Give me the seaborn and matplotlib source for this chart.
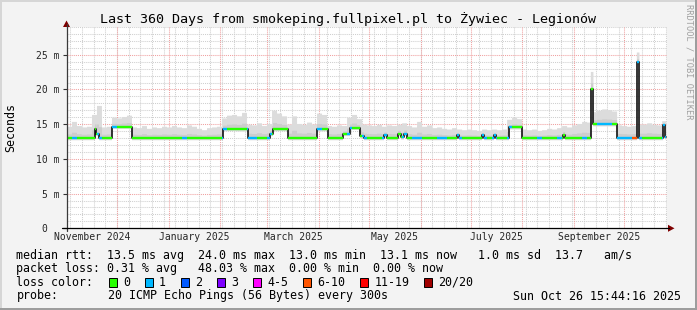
import numpy as np
import pandas as pd
import matplotlib
matplotlib.use("Agg")
import matplotlib.pyplot as plt
from matplotlib.patches import Rectangle, Polygon
from matplotlib.lines import Line2D
import seaborn as sns

# ---------------- data ----------------
TITLE = "Last 360 Days from smokeping.fullpixel.pl to Żywiec - Legionów"
START = "2024-10-31 15:44:16"
SPAN_DAYS = 360
DATA_END_DAY = 359.5
BIN_DAYS = 3

# median RTT (ms) as a step series: value holds from change day until next change
median_change_day = [0, 16.8, 17.8, 19.2, 27, 39, 93.6, 108.6, 121.8, 123.6, 132.6,
                     150, 156.6, 165.6, 169.8, 175.8, 178.2, 190.2, 192, 198.6, 200.4,
                     202.2, 204, 234, 235.2, 249, 250.2, 256.2, 257.4, 265.2, 273,
                     297.6, 298.8, 314.4, 315.6, 330, 342, 343.2, 357.6, 358.8]
median_ms = [13.0, 14.3, 13.6, 13.0, 14.65, 13.0, 14.3, 13.0, 13.6, 14.3, 13.0,
             14.3, 13.0, 13.6, 14.5, 13.3, 13.0, 13.4, 13.0, 13.6, 13.1,
             13.6, 13.0, 13.4, 13.0, 13.5, 13.0, 13.4, 13.0, 14.55, 13.0,
             13.5, 13.0, 20.1, 15.0, 13.0, 23.9, 13.0, 14.9, 13.1]

# upper edge of the smoke (ms), one value per 3-day bin
smoke_max_ms = [
    14.7, 15.4, 14.8, 14.6, 14.7, 16.4, 17.7, 14.6, 14.7, 16.0,
    15.9, 16.1, 16.3, 14.6, 14.5, 14.8, 14.4, 14.6, 14.5, 14.7,
    14.6, 14.8, 14.6, 14.5, 14.9, 14.7, 14.4, 14.2, 14.5, 14.6,
    14.7, 15.9, 16.3, 16.4, 16.2, 16.7, 15.0, 14.9, 15.2, 14.8,
    15.1, 17.0, 16.6, 16.2, 15.0, 16.2, 15.1, 15.0, 15.3, 15.0,
    16.6, 16.4, 14.8, 14.7, 14.9, 14.8, 16.0, 16.4, 15.8, 15.0,
    14.9, 14.8, 15.0, 14.7, 14.9, 14.8, 15.0, 15.2, 14.8, 14.6,
    15.4, 14.7, 14.9, 14.5, 14.6, 14.4, 14.3, 14.5, 14.3, 14.2,
    14.3, 14.2, 14.1, 14.3, 14.2, 14.3, 14.2, 14.3, 15.7, 16.0,
    15.8, 14.3, 14.2, 14.3, 14.1, 14.2, 14.4, 14.3, 14.5, 14.8,
    14.6, 14.9, 15.1, 15.4, 15.3, 16.8, 17.0, 17.2, 17.1, 16.9,
    14.9, 14.8, 14.7, 14.8, 15.0, 15.0, 15.2, 15.0, 14.9, 15.5]
smoke_peak_start_day = [314.2, 341.8]
smoke_peak_end_day = [315.8, 343.4]
smoke_peak_ms = [22.6, 25.4]

# lost pings (of 20), one value per 3-day bin
loss_count = [
    0, 1, 0, 0, 0, 0, 1, 0, 0, 1,
    0, 0, 0, 0, 0, 0, 0, 0, 0, 0,
    0, 0, 0, 1, 0, 0, 0, 0, 0, 0,
    0, 1, 0, 0, 0, 0, 1, 1, 0, 0,
    1, 0, 0, 0, 0, 0, 0, 0, 0, 0,
    1, 0, 0, 0, 0, 0, 1, 0, 0, 1,
    0, 0, 0, 1, 0, 0, 0, 1, 0, 1,
    1, 0, 0, 0, 1, 1, 0, 0, 1, 0,
    0, 0, 0, 1, 0, 1, 0, 0, 1, 0,
    0, 0, 0, 0, 1, 0, 0, 0, 1, 0,
    0, 0, 0, 1, 0, 0, 1, 1, 1, 0,
    1, 1, 1, 7, 1, 0, 0, 0, 0, 1]

y_ticks = [0, 5, 10, 15, 20, 25]
y_tick_labels = ["0  ", "5 m", "10 m", "15 m", "20 m", "25 m"]
Y_MAX = 29
x_label_months = ["2024-11-01", "2025-01-01", "2025-03-01", "2025-05-01", "2025-07-01", "2025-09-01"]

loss_labels = ["0", "1", "2", "3", "4-5", "6-10", "11-19", "20/20"]
loss_colors = ["#26ff00", "#00b8ff", "#0059ff", "#7e00ff", "#ff00ff", "#ff5500", "#ff0000", "#a00000"]
loss_upper = [0, 1, 2, 3, 5, 10, 19, 20]

legend_rtt = "median rtt:  13.5 ms avg  24.0 ms max  13.0 ms min  13.1 ms now   1.0 ms sd  13.7   am/s"
legend_loss = "packet loss: 0.31 % avg   48.03 % max  0.00 % min  0.00 % now"
probe_text = "20 ICMP Echo Pings (56 Bytes) every 300s"
stamp_text = "Sun Oct 26 15:44:16 2025"

# ---------------- figure ----------------
W, H, DPI = 697, 310, 100
sns.set_theme(style="white")
plt.rcParams["font.family"] = ["DejaVu Sans Mono"]
plt.rcParams["text.color"] = "black"

fig = plt.figure(figsize=(W / DPI, H / DPI), dpi=DPI, facecolor="#f3f3f3")
L, R, T, B = 66.5, 666.7, 27.0, 228.3


def fx(x):
    return x / W


def fy(y):
    return 1 - y / H


ax = fig.add_axes([fx(L), fy(B), (R - L) / W, (B - T) / H])
ax.set_facecolor("white")
for s in ax.spines.values():
    s.set_visible(False)
ax.set_xlim(0, SPAN_DAYS)
ax.set_ylim(0, Y_MAX)

start = pd.Timestamp(START)
end = start + pd.Timedelta(days=SPAN_DAYS)


def day_of(ts):
    return (pd.Timestamp(ts) - start) / pd.Timedelta(days=1)


dot = (0, (1, 1))
# minor grid
for d in pd.date_range(start.normalize(), end, freq="W-SUN"):
    ax.axvline(day_of(d), color="#cfcfcf", lw=0.75, ls=dot, zorder=0)
for v in range(1, Y_MAX + 1):
    if v % 5:
        ax.axhline(v, color="#cfcfcf", lw=0.75, ls=dot, zorder=0)
# major grid
for d in pd.date_range("2024-11-01", end, freq="MS"):
    ax.axvline(day_of(d), color="#f0a0a0", lw=0.75, ls=dot, zorder=0.5)
for v in y_ticks[1:]:
    ax.axhline(v, color="#f0a0a0", lw=0.75, ls=dot, zorder=0.5)

# smoke
chg = np.array(median_change_day, dtype=float)
med = np.array(median_ms, dtype=float)
xs = np.arange(0, DATA_END_DAY, 0.05)
med_f = med[np.searchsorted(chg, xs, side="right") - 1]
hi_f = np.array(smoke_max_ms)[np.minimum((xs // BIN_DAYS).astype(int), len(smoke_max_ms) - 1)]
for a, b, top in zip(smoke_peak_start_day, smoke_peak_end_day, smoke_peak_ms):
    hi_f = np.where((xs >= a) & (xs < b), top, hi_f)
hi_f = np.maximum(hi_f, med_f + 0.3)
ax.fill_between(xs, med_f - 0.25, hi_f, color="#dcdcdc", lw=0, zorder=1)
ax.fill_between(xs, med_f - 0.1, med_f + 0.35 * (hi_f - med_f), color="#cdcdcd", lw=0, zorder=1.2)

# median black step line
df = pd.DataFrame({"day": list(chg) + [DATA_END_DAY], "ms": list(med) + [med[-1]]})
sns.lineplot(data=df, x="day", y="ms", drawstyle="steps-post", color="#111111",
             lw=1.2, ax=ax, estimator=None, sort=False, legend=False, zorder=3)


def loss_class(n):
    for i, u in enumerate(loss_upper):
        if n <= u:
            return i
    return len(loss_upper) - 1


edges = sorted(set([float(e) for e in np.arange(0, SPAN_DAYS, BIN_DAYS)] + list(chg) + [DATA_END_DAY]))
for a, b in zip(edges[:-1], edges[1:]):
    if a >= DATA_END_DAY:
        break
    b = min(b, DATA_END_DAY)
    v = med[np.searchsorted(chg, a, side="right") - 1]
    c = loss_colors[loss_class(loss_count[int(a // BIN_DAYS)])]
    ax.hlines(v, a, b, colors=c, lw=1.7, zorder=4)

# ticks and labels
ax.set_yticks(y_ticks)
ax.set_yticklabels(y_tick_labels)
ax.tick_params(axis="y", left=True, length=3, width=0.8, color="#333333", pad=2.2, labelsize=7.05)
mids = [day_of(pd.Timestamp(m)) + pd.Timestamp(m).days_in_month / 2 for m in x_label_months]
ax.set_xticks(mids)
ax.set_xticklabels([pd.Timestamp(m).strftime("%B %Y") for m in x_label_months])
ax.tick_params(axis="x", bottom=False, length=0, pad=2.6, labelsize=7.05)
ax.set_xlabel("")
ax.set_ylabel("")

# axes lines and arrows
fig.add_artist(Line2D([fx(L), fx(L)], [fy(231), fy(24)], transform=fig.transFigure, color="#3a3a3a", lw=0.9))
fig.add_artist(Line2D([fx(62), fx(669)], [fy(B), fy(B)], transform=fig.transFigure, color="black", lw=0.9))
fig.add_artist(Polygon([[fx(L - 3.5), fy(27)], [fx(L + 3.5), fy(27)], [fx(L), fy(20.5)]],
                       closed=True, transform=fig.transFigure, color="#7f0000", lw=0))
fig.add_artist(Polygon([[fx(668), fy(B - 3.5)], [fx(668), fy(B + 3.5)], [fx(674.5), fy(B)]],
                       closed=True, transform=fig.transFigure, color="#7f0000", lw=0))

# texts
fig.text(fx(348.5), fy(19), TITLE, ha="center", va="center", fontsize=9.6)
fig.text(fx(10.5), fy(127.5), "Seconds", rotation=90, ha="center", va="center", fontsize=8.4)
fig.text(fx(688.5), fy(4), "RRDTOOL / TOBI OETIKER", rotation=270, ha="center", va="top",
         fontsize=6.2, color="#a0a0a0")

LX = 16.4
fig.text(fx(LX), fy(255), legend_rtt, ha="left", va="center", fontsize=8.4)
fig.text(fx(LX), fy(268.5), legend_loss, ha="left", va="center", fontsize=8.4)
fig.text(fx(LX), fy(282), "loss color:", ha="left", va="center", fontsize=8.4)
bx = 108.5
CW = 7.02
for lab, col in zip(loss_labels, loss_colors):
    fig.add_artist(Rectangle((fx(bx), fy(286.5)), 8.5 / W, 9 / H, transform=fig.transFigure,
                             facecolor=col, edgecolor="black", lw=0.7))
    tx = bx + 14.5
    fig.text(fx(tx), fy(282), lab, ha="left", va="center", fontsize=8.4)
    bx = tx + len(lab) * CW + 14.5
fig.text(fx(LX), fy(296), "probe:", ha="left", va="center", fontsize=8.4)
fig.text(fx(107.5), fy(296), probe_text, ha="left", va="center", fontsize=8.4)
fig.text(fx(681), fy(296), stamp_text, ha="right", va="center", fontsize=8.4)

# 3D-like frame
fig.add_artist(Rectangle((0, fy(2)), 1, 2 / H, transform=fig.transFigure, color="#d6d6d6", lw=0))
fig.add_artist(Rectangle((0, 0), 2 / W, 1, transform=fig.transFigure, color="#d6d6d6", lw=0))
fig.add_artist(Rectangle((fx(694.5), 0), 2.5 / W, 1, transform=fig.transFigure, color="#9d9d9d", lw=0))
fig.add_artist(Rectangle((0, 0), 1, 2.5 / H, transform=fig.transFigure, color="#9d9d9d", lw=0))

fig.savefig("out.png", dpi=DPI, facecolor=fig.get_facecolor())
